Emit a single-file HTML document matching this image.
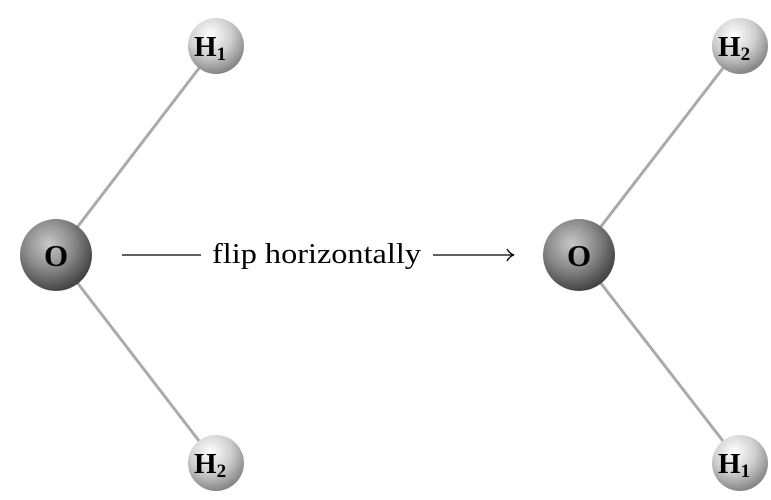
<!DOCTYPE html>
<html><head><meta charset="utf-8"><style>html,body{margin:0;padding:0;background:#fff} text{font-family:"Liberation Serif",serif}</style></head>
<body>
<svg width="771" height="495" viewBox="0 0 771 495" xmlns="http://www.w3.org/2000/svg">
<defs>
<radialGradient id="gO" cx="0.4" cy="0.35" r="0.7">
<stop offset="0" stop-color="#c8c8c8"/><stop offset="0.5" stop-color="#888"/><stop offset="1" stop-color="#3a3a3a"/>
</radialGradient>
<radialGradient id="gH" cx="0.4" cy="0.3" r="0.75">
<stop offset="0" stop-color="#ffffff"/><stop offset="0.5" stop-color="#cfcfcf"/><stop offset="1" stop-color="#7a7a7a"/>
</radialGradient>
</defs>
<g stroke="#aaa" stroke-width="3">
<line x1="56" y1="255" x2="216" y2="46"/><line x1="56" y1="255" x2="216" y2="463"/>
<line x1="579" y1="255" x2="740" y2="46"/><line x1="579" y1="255" x2="740" y2="463"/>
</g>
<g stroke="#000" stroke-width="1.3" fill="none">
<line x1="122" y1="255" x2="201" y2="255"/>
<line x1="433" y1="255" x2="513" y2="255"/>
<path d="M507 249 Q510 254 514 255 Q510 256 507 261"/>
</g>
<circle cx="56" cy="255" r="36" fill="url(#gO)"/>
<circle cx="579" cy="255" r="36" fill="url(#gO)"/>
<circle cx="216" cy="46" r="28" fill="url(#gH)"/>
<circle cx="216" cy="463" r="28" fill="url(#gH)"/>
<circle cx="740" cy="46" r="28" fill="url(#gH)"/>
<circle cx="740" cy="463" r="28" fill="url(#gH)"/>
<g font-weight="bold" fill="#000">
<text x="56" y="266" font-size="31" text-anchor="middle">O</text>
<text x="579" y="266" font-size="31" text-anchor="middle">O</text>
<text x="194" y="56" font-size="29">H<tspan font-size="19" dy="4">1</tspan></text>
<text x="194" y="473" font-size="29">H<tspan font-size="19" dy="4">2</tspan></text>
<text x="718" y="56" font-size="29">H<tspan font-size="19" dy="4">2</tspan></text>
<text x="718" y="473" font-size="29">H<tspan font-size="19" dy="4">1</tspan></text>
</g>
<text x="212" y="263" font-size="28" textLength="209" lengthAdjust="spacingAndGlyphs">flip horizontally</text>
</svg>
</body></html>
